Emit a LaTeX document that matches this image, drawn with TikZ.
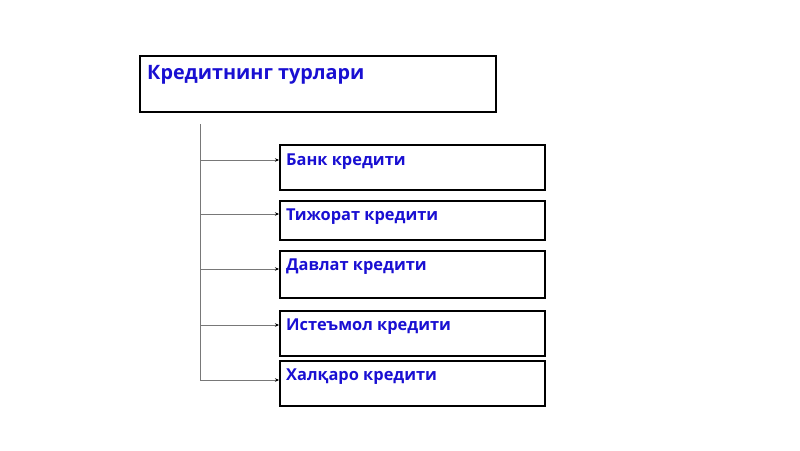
\documentclass[tikz,border=0pt]{standalone}
\usepackage{fontspec}
\setmainfont{Open Sans}
\usetikzlibrary{arrows.meta}
\definecolor{kblue}{RGB}{25,15,210}
\definecolor{kline}{RGB}{120,120,120}
\tikzset{
  kbox/.style={draw,line width=1.5pt,anchor=north west,inner sep=0pt,minimum width=265pt},
  ktext/.style={anchor=base west,inner sep=0pt,text=kblue,font=\bfseries\fontsize{16.4}{19}\selectfont},
  kline/.style={draw=kline,line width=.9pt,-{Stealth[length=4pt,width=3.5pt,black]}}
}
\begin{document}
\begin{tikzpicture}[x=1pt,y=-1pt]
    \useasboundingbox (0,0) rectangle (800,450);

    \node (Tur) at (139,55) [kbox,minimum width=356pt,minimum height=56pt] {};
    \node (TurT) at (147,79) [ktext,font=\bfseries\fontsize{19.8}{23}\selectfont] {Кредитнинг турлари};

    \node (Bank) at (279,144) [kbox,minimum height=45pt] {};
    \node (BankT) at (286,165) [ktext] {Банк кредити};

    \node (Tij) at (279,200) [kbox,minimum height=39pt] {};
    \node (TijT) at (286,220) [ktext] {Тижорат кредити};

    \node (Dav) at (279,250) [kbox,minimum height=47pt] {};
    \node (DavT) at (286,270) [ktext] {Давлат кредити};

    \node (Ist) at (279,310) [kbox,minimum height=45pt] {};
    \node (IstT) at (286,330) [ktext] {Истеъмол кредити};

    \node (Hal) at (279,360) [kbox,minimum height=45pt] {};
    \node (HalT) at (286,380) [ktext] {Халқаро кредити};

    % spine and arrow ends
    \coordinate (top) at (200,124);
    \coordinate (a1) at (279,160);
    \coordinate (a2) at (279,214);
    \coordinate (a3) at (279,269);
    \coordinate (a4) at (279,325);
    \coordinate (a5) at (279,380);
    \draw[draw=kline,line width=.9pt] (top) -- (top |- a5);
    \foreach \a in {a1,a2,a3,a4,a5}
      \draw[kline] (top |- \a) -- (\a);
\end{tikzpicture}
\end{document}
